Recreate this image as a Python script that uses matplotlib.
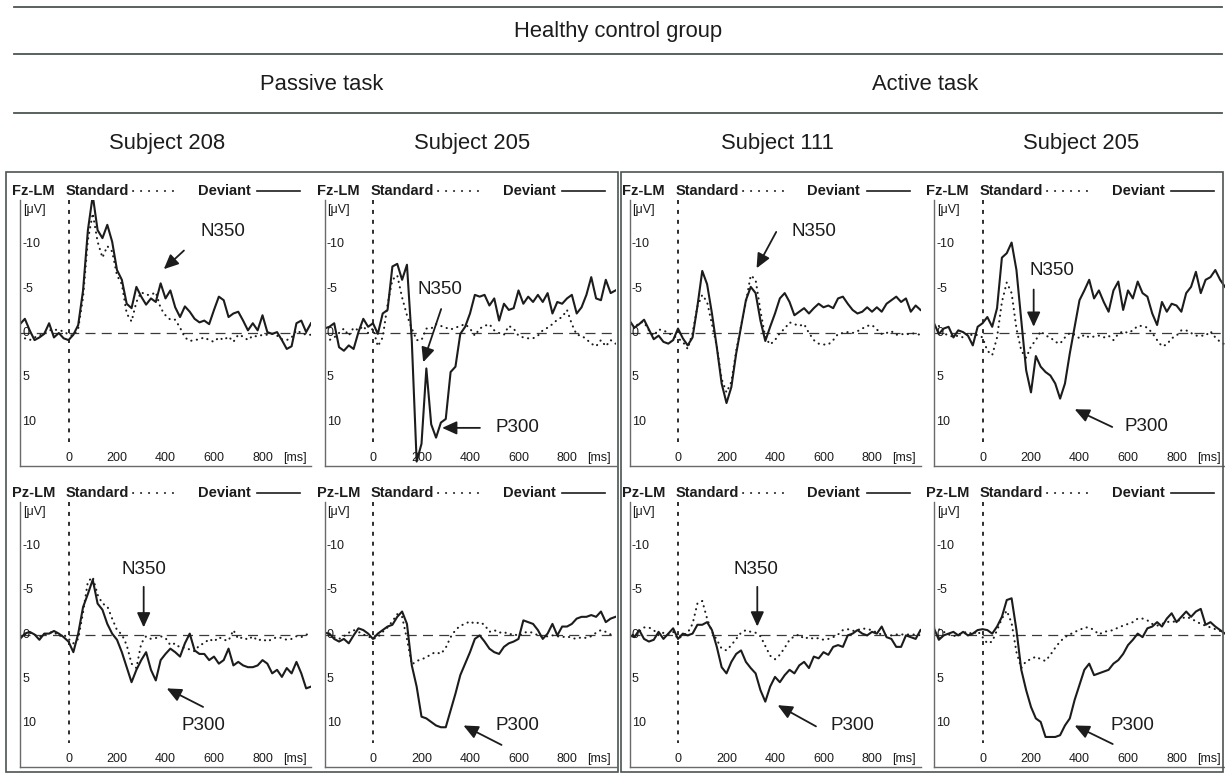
import numpy as np
import matplotlib
matplotlib.use("Agg")
import matplotlib.pyplot as plt
from matplotlib.patches import Rectangle
from matplotlib.lines import Line2D
import matplotlib.transforms as mtransforms

plt.rcParams['font.family'] = ['Liberation Sans', 'DejaVu Sans']
plt.rcParams['axes.unicode_minus'] = False

# ---------------------------------------------------------------- labels
group_title = "Healthy control group"
task_titles = ["Passive task", "Active task"]
subject_titles = ["Subject 208", "Subject 205", "Subject 111", "Subject 205"]
channel_names = ["Fz-LM", "Pz-LM"]
xtick_values = [0, 200, 400, 600, 800]
ytick_values = [-10, -5, 0, 5, 10]

# sample times (ms), 20 ms steps from -200 to 1000
time_ms = np.arange(-200, 1001, 20)

# ---------------------------------------------------------------- Fz-LM (µV)
fz_208_dev = [-1.0, -1.6, -0.3, 0.8, 0.5, 0.1, -1.1, 0.5, 0.0, 0.6,
              0.8, 0.2, -0.9, -4.8, -11.6, -15.5, -11.6, -10.7, -12.2, -10.3,
              -7.1, -6.0, -3.3, -2.8, -5.2, -4.1, -3.2, -3.9, -3.5, -5.6,
              -3.9, -4.8, -2.9, -1.8, -3.0, -2.4, -1.6, -1.2, -1.4, -1.0,
              -2.6, -4.1, -3.7, -1.8, -2.2, -2.4, -1.4, -0.3, -1.1, -0.3,
              -2.0, -0.1, 0.1, -0.1, 0.8, 1.8, 1.5, -1.1, -1.4, -0.1,
              -1.1]
fz_208_std = [0.3, 0.6, 0.8, 0.5, 0.3, 0.0, -0.3, -0.4, -0.3, -0.2,
              0.2, 0.3, -0.5, -4.0, -10.5, -13.5, -10.3, -8.5, -9.8, -9.2,
              -6.5, -5.5, -2.2, -1.3, -3.5, -4.6, -4.3, -4.3, -4.6, -2.8,
              -2.0, -1.5, -1.5, -0.6, 0.5, 0.9, 0.8, 0.7, 0.5, 0.8,
              1.0, 0.5, 0.8, 0.4, 1.0, 0.2, 0.4, 0.8, 0.3, 0.4,
              0.2, 0.2, 0.1, 0.3, 0.7, 0.8, 0.5, -0.3, 0.0, 0.2,
              0.2]
fz_205p_dev = [-0.5, -0.7, -1.1, 1.6, 2.0, 1.4, 1.8, -0.1, -1.6, -0.7,
               -1.1, 0.1, -2.2, -2.6, -7.5, -7.8, -6.0, -7.7, 0.9, 14.5,
               12.5, 4.0, 10.3, 11.8, 10.1, 9.7, 4.4, 3.8, 0.1, -0.7,
               -2.2, -4.3, -4.1, -4.3, -3.1, -3.9, -1.4, -3.3, -2.6, -2.8,
               -4.8, -3.3, -4.1, -3.5, -4.3, -3.5, -4.5, -2.2, -3.5, -3.3,
               -3.9, -4.3, -2.2, -2.9, -4.3, -6.3, -3.9, -3.7, -6.0, -4.5,
               -4.8]
fz_205p_std = [0.8, 0.8, 0.5, 0.0, -0.5, 0.3, -0.6, -0.3, -0.8, 0.0,
               -0.5, 1.5, 0.5, -3.2, -6.0, -6.5, -4.0, -2.0, -0.5, 0.8,
               0.8, -0.5, -0.5, -1.0, -0.8, -0.6, -0.4, -0.6, -0.8, -1.0,
               -0.5, 0.3, -0.5, -0.8, -1.0, -0.3, 0.0, 0.2, -0.8, -0.5,
               0.3, 0.5, 0.6, 0.6, 0.3, -0.3, -0.6, -1.0, -1.5, -1.8,
               -2.6, -1.0, 0.2, 0.3, 0.7, 1.2, 1.5, 0.8, 1.5, 0.8,
               1.2]
fz_111_dev = [-1.4, -0.6, -1.0, -1.5, -0.4, 0.7, 0.3, 1.0, 1.2, 0.8,
              -0.5, 0.6, 1.4, 0.5, -3.0, -7.0, -5.5, -2.2, 1.6, 5.7,
              7.9, 6.1, 2.3, -0.7, -3.7, -5.2, -4.5, -1.4, 0.9, -0.7,
              -2.2, -3.9, -4.5, -3.5, -2.0, -2.4, -2.8, -2.2, -2.8, -3.3,
              -2.9, -3.1, -2.8, -3.9, -4.1, -3.3, -2.6, -2.2, -2.4, -2.9,
              -2.4, -2.9, -2.4, -3.3, -3.7, -4.1, -3.5, -3.9, -2.4, -3.1,
              -2.6]
fz_111_std = [-1.0, -0.5, -1.2, -1.2, -0.3, 0.3, -0.4, -0.3, 0.0, 0.3,
              0.6, 1.0, 1.8, 0.0, -3.0, -4.3, -3.5, -1.0, 1.5, 5.2,
              6.7, 5.5, 2.0, -0.8, -3.5, -6.5, -6.0, -2.5, 0.5, 1.3,
              0.8, 0.0, -0.5, -1.2, -1.0, -0.8, -1.0, 0.0, 0.8, 1.2,
              1.3, 1.3, 0.8, 0.1, 0.0, -0.1, 0.0, -0.2, -0.5, -0.8,
              -0.9, -0.4, 0.1, 0.0, -0.2, 0.2, 0.1, 0.2, 0.0, 0.1,
              0.2]
fz_205a_dev = [-1.1, 0.1, -0.5, -0.7, 0.5, -0.3, -0.1, 0.3, 1.4, -0.7,
               -1.1, -1.8, -0.7, -2.8, -8.5, -9.0, -10.2, -7.1, -1.4, 4.2,
               6.7, 2.6, 3.8, 4.4, 4.8, 5.7, 7.4, 5.7, 2.3, -0.7,
               -3.7, -4.8, -6.0, -3.9, -4.8, -3.5, -2.4, -4.8, -5.8, -2.6,
               -4.8, -3.9, -5.8, -4.5, -4.1, -2.2, -0.9, -3.5, -2.4, -3.3,
               -3.1, -2.4, -4.5, -5.2, -6.9, -4.5, -6.0, -6.3, -7.1, -6.0,
               -5.2]
fz_205a_std = [-0.5, -0.8, 0.0, 0.3, 0.4, 0.3, 0.5, 0.0, 0.3, 0.2,
               0.5, 2.0, 2.5, 0.5, -3.5, -5.7, -4.5, -0.5, 2.0, 2.8,
               1.5, 0.8, -0.2, 0.3, 0.5, 1.0, 1.2, 0.5, 0.0, 0.2,
               0.6, 0.2, 0.5, 0.4, 0.3, 0.5, 0.3, 0.8, 0.1, -0.2,
               0.0, -0.3, -0.8, -0.8, -0.6, 0.0, 0.8, 1.5, 1.3, 0.6,
               0.3, -0.3, -0.3, 0.0, 0.3, 0.3, 0.3, -0.2, 0.5, 1.0,
               1.3]

# ---------------------------------------------------------------- Pz-LM (µV)
pz_208_dev = [0.5, -0.1, -0.3, 0.0, 0.6, -0.1, -0.1, -0.4, -0.1, 0.3,
              0.8, 2.0, -0.1, -3.1, -4.6, -6.2, -3.5, -2.8, -1.2, -0.1,
              0.6, 2.0, 3.7, 5.4, 4.0, 2.9, 2.0, 4.0, 5.2, 2.9,
              2.2, 1.6, 2.0, 2.5, 1.0, -0.1, 1.8, 2.2, 2.2, 2.9,
              2.5, 3.3, 2.9, 1.6, 3.5, 3.1, 3.5, 3.7, 3.7, 3.5,
              2.9, 3.3, 4.4, 4.0, 4.8, 3.8, 4.4, 3.1, 4.4, 6.1,
              5.9]
pz_208_std = [0.3, 0.0, -0.2, 0.0, 0.3, 0.0, -0.2, -0.3, 0.2, 0.0,
              0.5, 1.0, 0.5, -2.5, -6.0, -6.5, -4.5, -3.5, -3.2, -1.8,
              -0.5, 0.0, 1.2, 3.3, 3.8, 1.0, 0.2, 0.5, 0.4, 0.2,
              0.4, 1.2, 1.0, 1.5, 1.5, 1.7, 1.9, 1.2, 1.0, 0.5,
              0.8, 0.3, 0.6, 0.7, -0.5, 0.5, 0.3, 0.6, 0.2, 0.7,
              0.5, 0.8, 0.5, 0.3, 0.4, 0.6, 0.5, 0.2, 0.3, 0.0,
              0.0]
pz_205p_dev = [-0.2, -0.1, 0.5, 0.8, 0.5, 1.0, 0.1, -0.7, -0.5, -0.1,
               0.5, -0.1, -0.5, -0.9, -1.1, -2.0, -2.6, -1.2, 3.5, 5.9,
               9.3, 9.5, 9.9, 10.3, 10.5, 10.5, 8.6, 6.7, 4.6, 3.3,
               2.0, 0.5, 0.1, 0.8, 1.6, 2.0, 2.2, 1.4, 1.0, 0.8,
               0.5, -1.6, -1.4, -1.2, -0.5, 0.5, -0.1, -1.2, 0.1, -0.9,
               -0.9, -1.2, -1.8, -2.0, -2.0, -2.2, -2.0, -2.6, -1.4, -1.8,
               -2.0]
pz_205p_std = [-0.3, 0.0, 0.3, 0.5, 0.2, -0.2, -0.5, -0.3, 0.0, 0.2,
               0.5, 0.3, -0.3, -0.8, -1.5, -2.3, -2.0, 0.5, 3.4, 3.0,
               2.8, 2.6, 2.2, 2.0, 2.2, 1.5, 0.3, -0.5, -1.0, -1.2,
               -1.5, -1.2, -1.4, -1.1, -0.3, -0.5, -0.2, -0.3, 0.0, -0.1,
               0.2, -0.2, -0.3, -0.2, 0.1, 0.3, 0.2, 0.1, 0.2, 0.3,
               0.2, 0.4, 0.5, 0.3, 0.4, 0.2, -0.2, -0.5, -0.3, 0.0,
               0.2]
pz_111_dev = [0.1, 0.3, -0.5, 0.5, 0.8, 0.6, -0.3, 0.5, -0.1, -0.7,
              0.5, -0.1, 0.1, -0.1, -1.1, -1.1, -1.4, -0.5, 1.4, 3.7,
              4.4, 3.1, 2.2, 1.8, 3.1, 3.8, 4.4, 6.3, 7.6, 5.9,
              4.8, 5.4, 4.6, 4.0, 4.4, 3.5, 3.1, 3.8, 2.5, 2.7,
              2.0, 2.3, 1.4, 1.2, 1.4, 0.1, -0.1, -0.5, -0.1, 0.1,
              -0.3, -0.1, -0.9, 0.3, 0.5, 1.4, 1.4, 0.1, 0.3, 0.5,
              -0.5]
pz_111_std = [-0.5, 0.3, -0.3, -0.8, -0.8, -0.5, 0.1, -0.2, 0.0, -0.3,
              0.5, 0.1, -0.2, -1.2, -3.5, -3.8, -1.8, -0.3, 0.6, 1.6,
              1.8, 1.2, 0.5, -0.2, -0.5, -0.3, -0.2, 0.2, 1.3, 2.4,
              2.8, 2.3, 1.5, 0.6, 0.2, 0.0, 0.5, 0.3, 0.5, 0.4,
              0.6, 0.5, 0.3, 0.0, -0.5, -0.6, -0.4, -0.5, -0.7, -0.6,
              -0.5, -0.2, 0.0, 0.1, 0.1, 0.0, 0.0, 0.0, 0.0, 0.0,
              0.1]
pz_205a_dev = [-0.7, 0.6, 0.1, -0.1, -0.3, 0.1, -0.3, 0.1, -0.1, -0.5,
               -0.6, -0.5, -0.1, -0.9, -2.0, -3.9, -4.1, -0.5, 4.0, 6.3,
               8.2, 9.5, 9.9, 11.6, 11.6, 11.6, 11.4, 10.3, 9.5, 7.4,
               5.7, 4.0, 3.3, 4.6, 4.4, 4.2, 4.0, 3.3, 2.9, 2.2,
               1.2, 0.6, -0.1, 0.3, -0.7, -0.9, -1.4, -0.9, -1.8, -2.4,
               -1.4, -2.0, -2.6, -2.0, -2.6, -2.9, -1.1, -1.4, -0.9, -0.5,
               -0.1]
pz_205a_std = [-0.8, -0.6, -0.3, 0.0, 0.2, 0.0, -0.2, -0.3, 0.0, -0.4,
               0.3, 1.0, 0.8, -0.5, -1.8, -2.7, -1.3, 2.0, 3.8, 3.0,
               2.8, 2.5, 2.8, 3.0, 2.3, 1.5, 0.8, 0.3, 0.0, -0.3,
               -0.5, -0.8, -0.8, -0.5, 0.0, -0.3, -0.4, -0.5, -0.8, -1.0,
               -1.2, -1.4, -1.8, -1.8, -1.6, -1.2, -1.0, -1.2, -1.4, -1.5,
               -1.4, -1.8, -2.0, -1.8, -1.5, -1.2, -1.0, -0.8, -0.6, -0.4,
               -0.2]

# component labels: (text, text position, arrow tail, arrow head) in (ms, µV)
notes_fz_208 = [("N350", (638, -11.4), (476, -9.3), (393, -7.2))]
notes_fz_205p = [("N350", (277, -4.9), (281, -2.7), (207, 3.3)),
                 ("P300", (594, 10.7), (441, 10.7), (285, 10.7))]
notes_fz_111 = [("N350", (562, -11.4), (405, -11.4), (324, -7.3))]
notes_fz_205a = [("N350", (285, -7.0), (211, -4.9), (211, -0.7)),
                 ("P300", (678, 10.6), (535, 10.6), (380, 8.6))]
notes_pz_208 = [("N350", (310, -7.4), (310, -5.4), (310, -0.8)),
                ("P300", (555, 10.3), (555, 8.2), (405, 6.1))]
notes_pz_205p = [("P300", (594, 10.3), (530, 12.5), (373, 10.3))]
notes_pz_111 = [("N350", (323, -7.4), (327, -5.4), (327, -0.9)),
                ("P300", (718, 10.3), (569, 10.4), (411, 8.0))]
notes_pz_205a = [("P300", (617, 10.3), (537, 12.4), (380, 10.3))]

panels = [
    [(fz_208_std, fz_208_dev, notes_fz_208), (fz_205p_std, fz_205p_dev, notes_fz_205p),
     (fz_111_std, fz_111_dev, notes_fz_111), (fz_205a_std, fz_205a_dev, notes_fz_205a)],
    [(pz_208_std, pz_208_dev, notes_pz_208), (pz_205p_std, pz_205p_dev, notes_pz_205p),
     (pz_111_std, pz_111_dev, notes_pz_111), (pz_205a_std, pz_205a_dev, notes_pz_205a)],
]

# ---------------------------------------------------------------- layout (pixels)
W, H = 1225, 777
fig = plt.figure(figsize=(W / 100, H / 100), dpi=100)
fig.patch.set_facecolor('white')

INK = '#1c1c1c'
RULE = '#4a5550'
SPINE = '#6a6a6a'


def fx(px):
    return px / W


def fy(py):
    return 1 - py / H


col_left = [20, 324.5, 629.5, 934]
col_width = 291
row_top = [200, 502]
row_bottom = [466, 767]

# horizontal rules of the heading block
for y in (7, 54, 113):
    fig.add_artist(Line2D([fx(14), fx(1222)], [fy(y), fy(y)], transform=fig.transFigure,
                          color=RULE, lw=1.3))

fig.text(fx(618), fy(32), group_title, ha='center', va='center', fontsize=15.8, color=INK)
fig.text(fx(322), fy(84), task_titles[0], ha='center', va='center', fontsize=15.8, color=INK)
fig.text(fx(925), fy(84), task_titles[1], ha='center', va='center', fontsize=15.8, color=INK)
for c, name in enumerate(subject_titles):
    fig.text(fx(col_left[c] + col_width / 2 + 2), fy(143), name,
             ha='center', va='center', fontsize=15.8, color=INK)

# frames around the passive and active blocks
for x0, x1 in ((6, 618), (621, 1223)):
    fig.add_artist(Rectangle((fx(x0), fy(772)), fx(x1 - x0), (772 - 172) / H,
                             transform=fig.transFigure, fill=False, ec=RULE, lw=1.2))

for r in range(2):
    for c in range(4):
        std, dev, notes = panels[r][c]
        top, bot = row_top[r], row_bottom[r]
        ax = fig.add_axes([fx(col_left[c]), fy(bot), col_width / W, (bot - top) / H])
        ax.patch.set_alpha(0)
        for side in ('top', 'right'):
            ax.spines[side].set_visible(False)
        for side in ('left', 'bottom'):
            ax.spines[side].set_color(SPINE)
            ax.spines[side].set_linewidth(1.0)
        ax.set_xticks([])
        ax.set_yticks([])

        # reference lines
        ax.axhline(0, color='#3a3a3a', lw=0.9, dashes=(8, 5))
        ax.plot([0, 0], [-15, 12.3], color=INK, lw=1.3, dashes=(2.2, 3.3))

        # waveforms
        ax.plot(time_ms, std, color=INK, lw=1.5, linestyle=(0, (0.1, 2.6)),
                dash_capstyle='round')
        ax.plot(time_ms, dev, color=INK, lw=1.5)

        ax.set_xlim(-200, 1000)
        ax.set_ylim(15, -15)

        # tick labels drawn inside the frame
        ytrans = mtransforms.blended_transform_factory(ax.transAxes, ax.transData)
        for v in ytick_values:
            ax.text(0.008, v, f"{v}", transform=ytrans, ha='left', va='center',
                    fontsize=9, color=INK)
        ax.text(0.01, -13.9, "[\u03bcV]", transform=ytrans, ha='left', va='center',
                fontsize=9, color=INK)
        for t in xtick_values:
            ax.text(t, 14.1, f"{t}", ha='center', va='center', fontsize=9, color=INK)
        ax.text(885, 14.1, "[ms]", ha='left', va='center', fontsize=9, color=INK)

        # header: channel and line key
        hy = 1 + 9 / (bot - top)
        ax.text(-8 / col_width, hy, channel_names[r], transform=ax.transAxes,
                ha='left', va='center', fontsize=10.5, fontweight='bold', color=INK,
                clip_on=False)
        ax.text(46 / col_width, hy, "Standard", transform=ax.transAxes,
                ha='left', va='center', fontsize=10.5, fontweight='bold', color=INK,
                clip_on=False)
        ax.plot([113 / col_width, 160 / col_width], [hy, hy], transform=ax.transAxes,
                color=INK, lw=1.4, linestyle=(0, (0.1, 4.0)), dash_capstyle='round',
                clip_on=False)
        ax.text(178 / col_width, hy, "Deviant", transform=ax.transAxes,
                ha='left', va='center', fontsize=10.5, fontweight='bold', color=INK,
                clip_on=False)
        ax.plot([237 / col_width, 280 / col_width], [hy, hy], transform=ax.transAxes,
                color=INK, lw=1.2, clip_on=False)

        # component annotations
        for label, txy, tail, head in notes:
            ax.text(txy[0], txy[1], label, ha='center', va='center', fontsize=13.5,
                    color=INK)
            ax.annotate('', xy=head, xytext=tail,
                        arrowprops=dict(arrowstyle='-|>,head_length=0.55,head_width=0.25',
                                        mutation_scale=16, lw=1.3, color=INK,
                                        shrinkA=0, shrinkB=0))

        ax.set_xlim(-200, 1000)
        ax.set_ylim(15, -15)

fig.savefig("out.png", dpi=100, facecolor='white')
